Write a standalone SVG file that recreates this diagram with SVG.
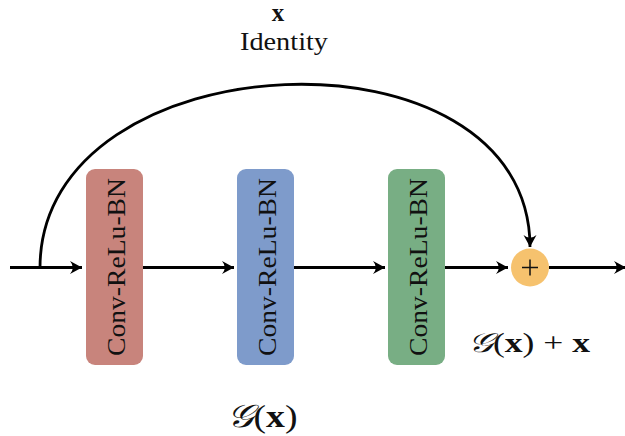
<svg xmlns="http://www.w3.org/2000/svg" width="625" height="436" viewBox="0 0 625 436">
  <style>
    .box { stroke: none; }
    .lbl { font-family: "Liberation Serif", "DejaVu Serif", serif; fill: #111; }
    .edge { fill: none; stroke: #000; stroke-width: 2.8; }
  </style>
  <defs>
    <marker id="arrow" viewBox="-13 -7 15 14" refX="0" refY="0" markerWidth="15" markerHeight="14" markerUnits="userSpaceOnUse" orient="auto">
      <path d="M0,0 L-12,-6.5 Q-6.5,0 -12,6.5 Z" fill="#000"/>
    </marker>
  </defs>
  <rect width="625" height="436" fill="#fff"/>

  <!-- connectors -->
  <g id="connectors">
    <path class="edge" d="M10,267.5 H82" marker-end="url(#arrow)"/>
    <path class="edge" d="M143,267.5 H234" marker-end="url(#arrow)"/>
    <path class="edge" d="M294,267.5 H385" marker-end="url(#arrow)"/>
    <path class="edge" d="M445,267.5 H508" marker-end="url(#arrow)"/>
    <path class="edge" d="M549,267.5 H626" marker-end="url(#arrow)"/>
    <path class="edge" d="M40,268 C40,37 530,17 530,247" marker-end="url(#arrow)"/>
  </g>

  <!-- identity label -->
  <g id="identity-label">
    <text class="lbl" x="278" y="21" font-size="25" font-weight="bold" text-anchor="middle">x</text>
    <text class="lbl" x="284" y="50" font-size="25" text-anchor="middle" textLength="88" lengthAdjust="spacingAndGlyphs">Identity</text>
  </g>

  <!-- residual blocks -->
  <g id="block1">
    <rect class="box" x="86" y="169" width="57" height="196" rx="9" fill="#C8847C"/>
    <text class="lbl" transform="translate(125,267) rotate(-90)" font-size="26" text-anchor="middle" textLength="178" lengthAdjust="spacingAndGlyphs">Conv-ReLu-BN</text>
  </g>
  <g id="block2">
    <rect class="box" x="237" y="169" width="57" height="196" rx="9" fill="#7E9BCB"/>
    <text class="lbl" transform="translate(276,267) rotate(-90)" font-size="26" text-anchor="middle" textLength="178" lengthAdjust="spacingAndGlyphs">Conv-ReLu-BN</text>
  </g>
  <g id="block3">
    <rect class="box" x="388" y="169" width="57" height="196" rx="9" fill="#78AE84"/>
    <text class="lbl" transform="translate(427,267) rotate(-90)" font-size="26" text-anchor="middle" textLength="178" lengthAdjust="spacingAndGlyphs">Conv-ReLu-BN</text>
  </g>

  <!-- sum node -->
  <g id="sum">
    <circle cx="530" cy="267.5" r="19" fill="#F6C26E"/>
    <path d="M522,267.5 H538 M530,259.5 V275.5" stroke="#111" stroke-width="1.5" fill="none"/>
  </g>

  <!-- output labels -->
  <g id="sum-label">
    <text class="lbl" x="529" y="352" font-size="27" text-anchor="middle" textLength="122" lengthAdjust="spacingAndGlyphs"><tspan font-style="italic">𝒢</tspan>(<tspan font-weight="bold">x</tspan>) + <tspan font-weight="bold">x</tspan></text>
  </g>
  <g id="block-label">
    <text class="lbl" x="262" y="427" font-size="32" text-anchor="middle" textLength="71" lengthAdjust="spacingAndGlyphs"><tspan font-style="italic">𝒢</tspan>(<tspan font-weight="bold">x</tspan>)</text>
  </g>
</svg>
